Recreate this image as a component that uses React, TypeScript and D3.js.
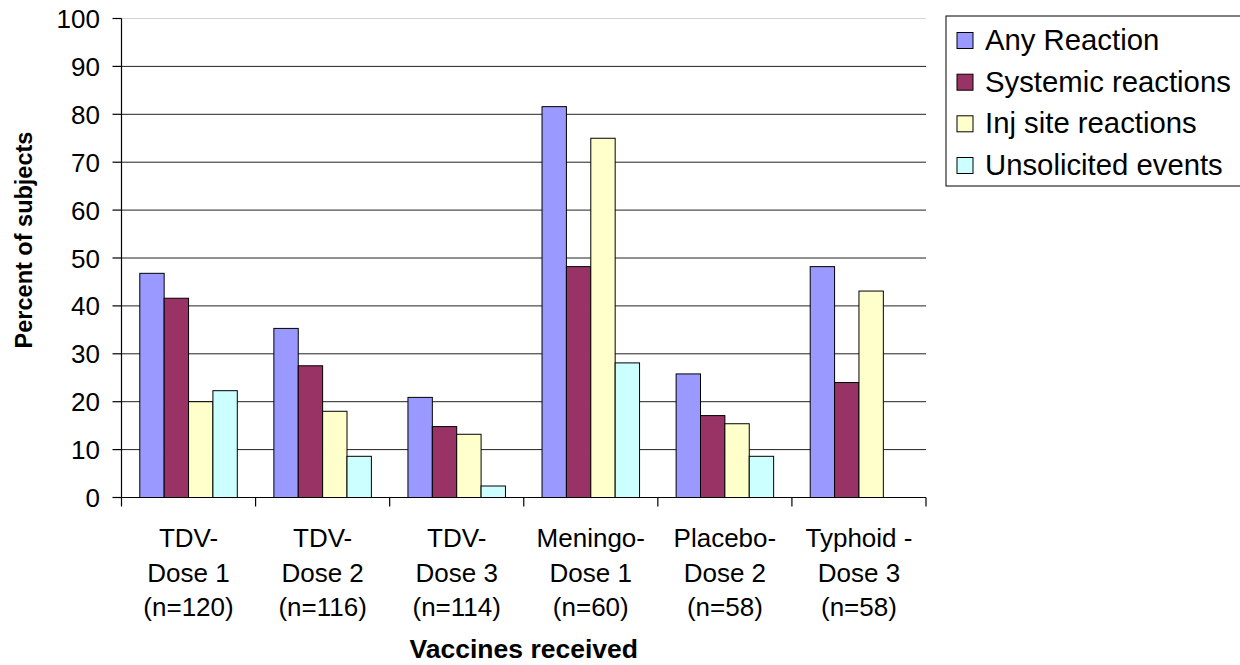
import React from "react";
import * as d3 from "d3";

const categories = [
  ["TDV-", "Dose 1", "(n=120)"],
  ["TDV-", "Dose 2", "(n=116)"],
  ["TDV-", "Dose 3", "(n=114)"],
  ["Meningo-", "Dose 1", "(n=60)"],
  ["Placebo-", "Dose 2", "(n=58)"],
  ["Typhoid -", "Dose 3", "(n=58)"],
];
const seriesNames = ["Any Reaction", "Systemic reactions", "Inj site reactions", "Unsolicited events"];
const anyReaction = [46.8, 35.3, 20.9, 81.6, 25.8, 48.2];
const systemic = [41.6, 27.5, 14.8, 48.2, 17.1, 24.0];
const injSite = [20.0, 18.0, 13.2, 75.0, 15.4, 43.1];
const unsolicited: (number | null)[] = [22.3, 8.6, 2.4, 28.1, 8.6, null];
const seriesColors = ["#9999FF", "#993366", "#FFFFCC", "#CCFFFF"];
const yTicks = [0, 10, 20, 30, 40, 50, 60, 70, 80, 90, 100];

const W = 1240, H = 665;
const left = 121.5, right = 926, top = 18.5, bottom = 497.5;
const FONT = "'Liberation Sans', Arial, sans-serif";

export default function App() {
  const seriesValues = [anyReaction, systemic, injSite, unsolicited];
  const catKeys = categories.map((_, i) => String(i));
  const x0 = d3.scaleBand<string>().domain(catKeys).range([left, right]).padding(0);
  const x1 = d3.scaleBand<string>().domain(seriesNames).range([0, x0.bandwidth()]).paddingInner(0).paddingOuter(0.75);
  const y = d3.scaleLinear().domain([0, 100]).range([bottom, top]);

  const legendRows = [50, 91.7, 133.3, 175];

  return (
    <svg width={W} height={H} style={{ position: "absolute", left: 0, top: 0, display: "block", overflow: "hidden" }} fontFamily={FONT}>
      <rect x={0} y={0} width={W} height={H} fill="#fff" />
      {/* gridlines */}
      {yTicks.filter((t) => t > 0).map((t) => (
        <line key={"g" + t} x1={left} x2={right} y1={y(t)} y2={y(t)}
          stroke={t === 100 ? "#d4d4d4" : "#222"} strokeWidth={1} />
      ))}
      {/* bars */}
      {seriesValues.map((vals, si) =>
        vals.map((v, ci) =>
          v == null ? null : (
            <rect key={`b${si}-${ci}`}
              x={(x0(String(ci)) as number) + (x1(seriesNames[si]) as number)}
              y={y(v)}
              width={x1.bandwidth()}
              height={y(0) - y(v)}
              fill={seriesColors[si]} stroke="#000" strokeWidth={1} />
          )
        )
      )}
      {/* y axis */}
      <line x1={left} x2={left} y1={top} y2={bottom} stroke="#000" strokeWidth={1.2} />
      {yTicks.map((t) => (
        <g key={"yt" + t}>
          <line x1={left - 9} x2={left} y1={y(t)} y2={y(t)} stroke="#000" strokeWidth={1.2} />
          <text x={100} y={y(t) + 9.5} textAnchor="end" fontSize={26} fill="#000">{t}</text>
        </g>
      ))}
      {/* x axis */}
      <line x1={left} x2={right} y1={bottom} y2={bottom} stroke="#000" strokeWidth={1.2} />
      {[...catKeys.map((k) => x0(k) as number), right].map((xv, i) => (
        <line key={"xt" + i} x1={xv} x2={xv} y1={bottom} y2={bottom + 9} stroke="#000" strokeWidth={1.2} />
      ))}
      {categories.map((lines, ci) => {
        const cx = (x0(String(ci)) as number) + x0.bandwidth() / 2;
        return (
          <text key={"xl" + ci} textAnchor="middle" fontSize={26} fill="#000">
            {lines.map((ln, li) => (
              <tspan key={li} x={cx} y={547 + li * 34.5}>{ln}</tspan>
            ))}
          </text>
        );
      })}
      {/* axis titles */}
      <text x={(left + right) / 2} y={658} textAnchor="middle" fontSize={26.5} fontWeight="bold" fill="#000">Vaccines received</text>
      <text transform={`translate(32,240) rotate(-90)`} textAnchor="middle" fontSize={23.5} fontWeight="bold" fill="#000">Percent of subjects</text>
      {/* legend */}
      <rect x={946} y={16} width={330} height={170} fill="#fff" stroke="#000" strokeWidth={1} />
      {seriesNames.map((name, i) => (
        <g key={"lg" + i}>
          <rect x={957} y={legendRows[i] - 17.5} width={16} height={16} fill={seriesColors[i]} stroke="#000" strokeWidth={1} />
          <text x={985} y={legendRows[i]} fontSize={29.3} fill="#000">{name}</text>
        </g>
      ))}
    </svg>
  );
}
